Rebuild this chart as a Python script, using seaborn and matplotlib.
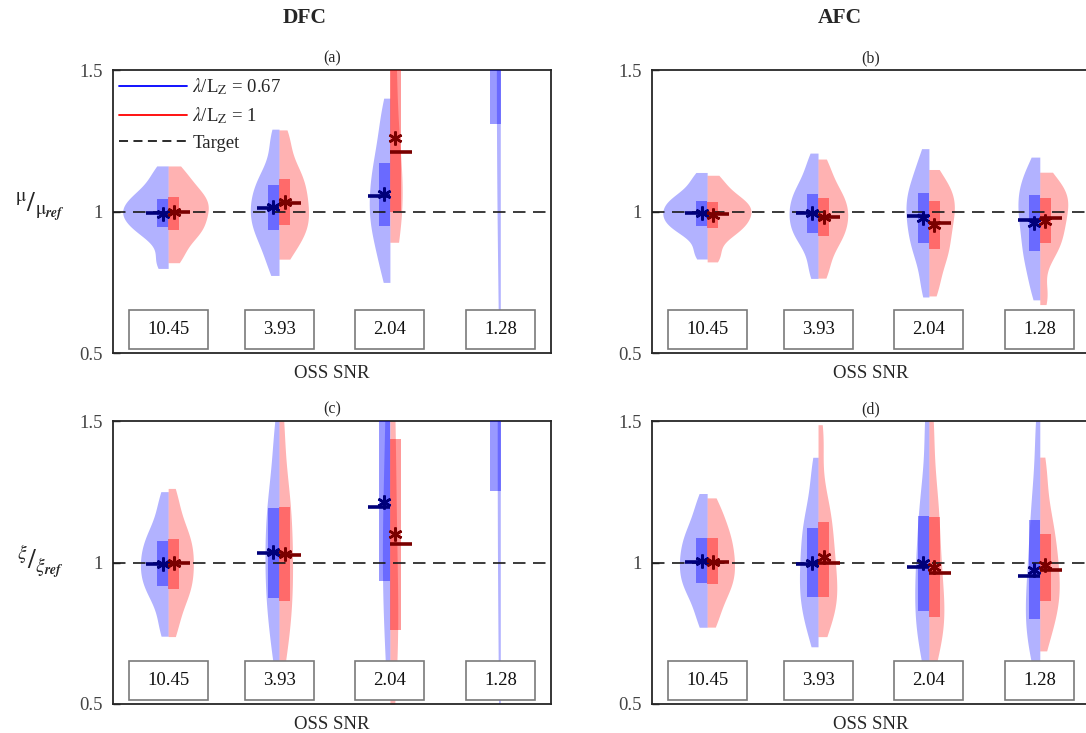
import numpy as np
import pandas as pd
import seaborn as sns
import matplotlib.pyplot as plt
from matplotlib.lines import Line2D
from matplotlib.patches import Rectangle

sns.set_theme(style='white')
plt.rcParams['font.family'] = ['Liberation Serif', 'DejaVu Serif']
plt.rcParams['mathtext.fontset'] = 'stix'

snr = ['10.45', '3.93', '2.04', '1.28']
cases = [r'$\lambda$/L$_{\rm Z}$ = 0.67', r'$\lambda$/L$_{\rm Z}$ = 1']

# values at the 0, 12.5, 25, ... 100 % levels, one row per SNR
dfc_mu_067 = [[0.82, 0.915, 0.946, 0.975, 0.996, 1.018, 1.044, 1.075, 1.14],
              [0.805, 0.89, 0.935, 0.975, 1.011, 1.05, 1.094, 1.14, 1.26],
              [0.79, 0.89, 0.949, 1.00, 1.056, 1.11, 1.17, 1.25, 1.36],
              [0.80, 1.10, 1.31, 1.60, 1.90, 2.20, 2.60, 3.20, 4.20]]
dfc_mu_1 = [[0.84, 0.91, 0.935, 0.97, 1.0, 1.027, 1.052, 1.085, 1.14],
            [0.86, 0.92, 0.952, 0.99, 1.031, 1.07, 1.114, 1.16, 1.26],
            [0.98, 0.99, 1.0, 1.10, 1.211, 1.38, 1.56, 1.75, 2.1],
            [2.0, 2.2, 2.4, 2.6, 2.8, 3.0, 3.3, 3.7, 4.2]]
afc_mu_067 = [[0.85, 0.925, 0.949, 0.972, 0.993, 1.015, 1.038, 1.06, 1.12],
              [0.79, 0.89, 0.925, 0.96, 0.993, 1.027, 1.061, 1.10, 1.18],
              [0.73, 0.84, 0.89, 0.94, 0.985, 1.025, 1.067, 1.11, 1.19],
              [0.72, 0.81, 0.862, 0.92, 0.970, 1.015, 1.058, 1.10, 1.16]]
afc_mu_1 = [[0.84, 0.915, 0.943, 0.967, 0.991, 1.012, 1.032, 1.055, 1.11],
            [0.79, 0.875, 0.915, 0.95, 0.982, 1.015, 1.047, 1.085, 1.16],
            [0.73, 0.82, 0.866, 0.915, 0.961, 1.0, 1.038, 1.07, 1.12],
            [0.70, 0.85, 0.89, 0.935, 0.976, 1.012, 1.047, 1.075, 1.11]]
dfc_xi_067 = [[0.77, 0.88, 0.917, 0.96, 0.995, 1.035, 1.076, 1.12, 1.22],
              [0.67, 0.80, 0.873, 0.96, 1.032, 1.11, 1.191, 1.28, 1.45],
              [0.67, 0.85, 0.936, 1.06, 1.197, 1.38, 1.60, 1.90, 2.5],
              [0.67, 1.0, 1.253, 1.6, 2.0, 2.4, 2.9, 3.5, 4.5]]
dfc_xi_1 = [[0.77, 0.87, 0.906, 0.955, 0.997, 1.04, 1.083, 1.13, 1.23],
            [0.67, 0.79, 0.865, 0.95, 1.026, 1.11, 1.195, 1.29, 1.49],
            [0.55, 0.68, 0.761, 0.92, 1.065, 1.25, 1.435, 1.65, 2.0],
            [2.0, 2.3, 2.6, 2.9, 3.1, 3.4, 3.7, 4.0, 4.5]]
afc_xi_067 = [[0.80, 0.89, 0.926, 0.968, 1.003, 1.045, 1.085, 1.13, 1.215],
              [0.744, 0.83, 0.879, 0.94, 0.995, 1.06, 1.123, 1.19, 1.33],
              [0.68, 0.77, 0.83, 0.91, 0.983, 1.07, 1.164, 1.27, 1.50],
              [0.67, 0.75, 0.80, 0.88, 0.953, 1.05, 1.15, 1.27, 1.48]]
afc_xi_1 = [[0.80, 0.885, 0.923, 0.965, 1.001, 1.043, 1.085, 1.13, 1.20],
            [0.785, 0.84, 0.879, 0.94, 1.0, 1.07, 1.144, 1.22, 1.44],
            [0.70, 0.76, 0.809, 0.88, 0.962, 1.06, 1.16, 1.27, 1.49],
            [0.73, 0.82, 0.865, 0.92, 0.973, 1.035, 1.10, 1.18, 1.33]]

# means (asterisks); values above 1.5 are off the chart
dfc_mu_mean_067 = [0.991, 1.017, 1.062, 2.1]
dfc_mu_mean_1 = [1.0, 1.035, 1.259, 2.8]
afc_mu_mean_067 = [0.993, 0.996, 0.978, 0.958]
afc_mu_mean_1 = [0.988, 0.979, 0.952, 0.968]
dfc_xi_mean_067 = [0.995, 1.036, 1.215, 2.1]
dfc_xi_mean_1 = [0.997, 1.03, 1.10, 2.9]
afc_xi_mean_067 = [1.006, 0.997, 0.997, 0.973]
afc_xi_mean_1 = [1.003, 1.018, 0.985, 0.991]

light = ['#0000ff', '#ff0000']
dark = ['#00007a', '#7a0000']


def frame(blue, red):
    rows = []
    for s, b, r in zip(snr, blue, red):
        rows += [(s, cases[0], v) for v in b]
        rows += [(s, cases[1], v) for v in r]
    return pd.DataFrame(rows, columns=['snr', 'case', 'value'])


def panel(ax, blue, red, blue_mean, red_mean, width, tag):
    df = frame(blue, red)
    sns.violinplot(data=df, x='snr', y='value', hue='case', order=snr,
                   hue_order=cases, split=True, inner=None, cut=0.5,
                   bw_adjust=0.7, density_norm='area', common_norm=True,
                   palette=light, saturation=1, alpha=0.3, linewidth=0,
                   width=width, gridsize=400, legend=False, ax=ax)
    x = np.arange(len(snr))
    for vals, means, sign, c, d in [(blue, blue_mean, -1, light[0], dark[0]),
                                    (red, red_mean, 1, light[1], dark[1])]:
        q1, med, q3 = np.percentile(vals, [25, 50, 75], axis=1)
        ax.bar(x + sign * 0.05, q3 - q1, bottom=q1, width=0.1, color=c,
               alpha=0.4, linewidth=0, zorder=3)
        ax.hlines(med, x, x + sign * 0.2, color=d, lw=2.6, zorder=6)
        ax.plot(x + sign * 0.05, means, ls='none', marker=(6, 2, 0), ms=10,
                mew=1.8, color=d, zorder=7)
    ax.axhline(1, color='k', lw=1.2, ls=(0, (7.5, 4.5)), zorder=5)

    for i, s in enumerate(snr):
        w = 0.27 + 0.088 * len(s)
        ax.add_patch(Rectangle((i - w / 2, 0.514), w, 0.138, facecolor='white',
                               edgecolor='#7a7a7a', lw=1.2, zorder=8))
        ax.text(i, 0.583, s, ha='center', va='center', fontsize=13.5,
                color='#111111', zorder=9)

    ax.set_xlim(-0.5, 3.45)
    ax.set_ylim(0.5, 1.5)
    ax.set_xticks([])
    ax.set_yticks([0.5, 1, 1.5])
    ax.set_yticklabels(['0.5', '1', '1.5'])
    ax.set_xlabel('')
    ax.set_ylabel('')
    ax.tick_params(axis='y', direction='in', length=5, width=1, pad=7,
                   labelsize=13.5, labelcolor='#444444', left=True)
    for sp in ax.spines.values():
        sp.set_visible(True)
        sp.set_color('#262626')
        sp.set_linewidth(1.3)
    ax.text(0.5, 1.042, tag, transform=ax.transAxes, ha='center',
            va='center', fontsize=11.5)
    ax.text(0.5, -0.072, 'OSS SNR', transform=ax.transAxes, ha='center',
            va='center', fontsize=13.5)


fig = plt.figure(figsize=(10.86, 7.33), dpi=100)
W, H = 1086, 733
aw, ah = 438 / W, 283 / H
ax_a = fig.add_axes([112.7 / W, 1 - 353 / H, aw, ah])
ax_b = fig.add_axes([651.7 / W, 1 - 353 / H, aw, ah])
ax_c = fig.add_axes([112.7 / W, 1 - 704 / H, aw, ah])
ax_d = fig.add_axes([651.7 / W, 1 - 704 / H, aw, ah])

panel(ax_a, dfc_mu_067, dfc_mu_1, dfc_mu_mean_067, dfc_mu_mean_1, 0.82, '(a)')
panel(ax_b, afc_mu_067, afc_mu_1, afc_mu_mean_067, afc_mu_mean_1, 0.8, '(b)')
panel(ax_c, dfc_xi_067, dfc_xi_1, dfc_xi_mean_067, dfc_xi_mean_1, 0.5, '(c)')
panel(ax_d, afc_xi_067, afc_xi_1, afc_xi_mean_067, afc_xi_mean_1, 0.5, '(d)')

handles = [Line2D([], [], color='#0000ff', lw=1.3),
           Line2D([], [], color='#ff0000', lw=1.3),
           Line2D([], [], color='k', lw=1.3, ls=(0, (5, 3)))]
ax_a.legend(handles, cases + ['Target'], loc='upper left', frameon=False,
            fontsize=13.5, handlelength=3.6, handletextpad=0.3,
            labelspacing=0.45, borderaxespad=0.15, borderpad=0.2)

fig.text(305 / W, 1 - 18 / H, 'DFC', ha='center', va='center',
         fontsize=15.5, fontweight='bold')
fig.text(840 / W, 1 - 18 / H, 'AFC', ha='center', va='center',
         fontsize=15.5, fontweight='bold')
fig.text(40 / W, 1 - 207 / H, r'$^{\mathrm{\mu}}/_{\mathrm{\mu}_{\mathbfit{ref}}}$',
         ha='center', va='center', fontsize=20)
fig.text(40 / W, 1 - 562 / H, r'$^{\xi}/_{\xi_{\mathbfit{ref}}}$',
         ha='center', va='center', fontsize=20)

fig.savefig('out.png', dpi=100)
